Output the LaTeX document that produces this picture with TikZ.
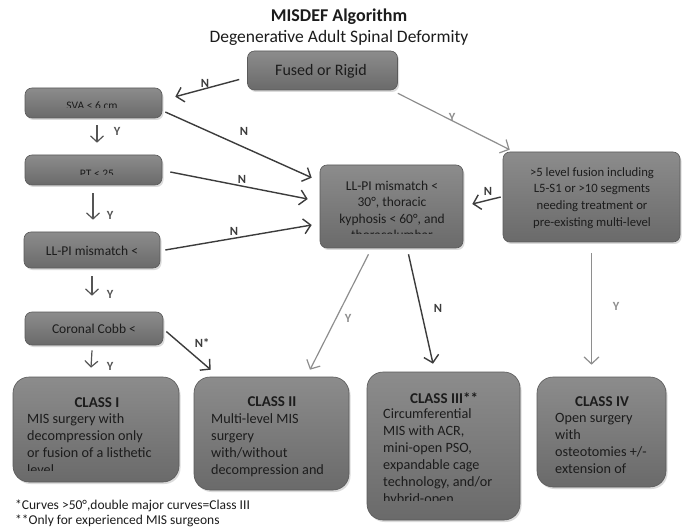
\documentclass[tikz,border=0pt]{standalone}
\usepackage{fontspec}
\setmainfont{Carlito}
\usetikzlibrary{arrows.meta,shadows}

\definecolor{boxtop}{HTML}{8C8C8C}
\definecolor{boxbot}{HTML}{6A6A6A}
\definecolor{boxline}{HTML}{5A5A5A}
\definecolor{ink}{HTML}{1C1C1C}
\definecolor{darkline}{HTML}{3C3C3C}
\definecolor{midline}{HTML}{555555}
\definecolor{paleline}{HTML}{8E8E8E}

\tikzset{
  box/.style={draw=boxline, line width=0.6pt, top color=boxtop, bottom color=boxbot,
    rounded corners=7pt, inner sep=0pt,
    drop shadow={opacity=0.28, shadow xshift=1.5pt, shadow yshift=-2pt}},
  classbox/.style={box, rounded corners=16pt},
  boxtext/.style={font=\fontsize{13.5}{16.5}\selectfont, text=ink, align=center, inner sep=0pt},
  smalltext/.style={boxtext, font=\fontsize{11.5}{13}\selectfont},
  bodytext/.style={font=\fontsize{14.2}{17}\selectfont, text=ink, align=left, inner sep=0pt, anchor=north west},
  classtitle/.style={font=\fontsize{15}{17}\selectfont\bfseries, text=ink, inner sep=0pt},
  noarrow/.style={draw=darkline, line width=1.4pt, -{Straight Barb[length=7pt,width=15pt]}},
  yesarrow/.style={draw=paleline, line width=1.2pt, -{Straight Barb[length=7pt,width=15pt]}},
  downarrow/.style={draw=midline, line width=1.2pt, -{Straight Barb[length=6pt,width=13pt]}},
  nlabel/.style={font=\fontsize{12.5}{14}\selectfont\bfseries, text=darkline, inner sep=0pt},
  ylabel/.style={font=\fontsize{12.5}{14}\selectfont\bfseries, text=paleline, inner sep=0pt},
  dylabel/.style={font=\fontsize{12.5}{14}\selectfont\bfseries, text=midline, inner sep=0pt},
  note/.style={font=\fontsize{13.5}{15}\selectfont, text=ink, inner sep=0pt, anchor=west},
}

\begin{document}
\begin{tikzpicture}[x=1pt, y=-1pt]
  \useasboundingbox[fill=white] (0,0) rectangle (682,529);

  % heading
  \node[font=\fontsize{18}{20}\selectfont\bfseries, text=ink, inner sep=0pt] (title) at (339,17) {MISDEF Algorithm};
  \node[font=\fontsize{17.5}{20}\selectfont, text=ink, inner sep=0pt] (subtitle) at (339,38) {Degenerative Adult Spinal Deformity};

  % decision boxes
  \node[box, minimum width=150pt, minimum height=39pt] (fused) at (322.5,70.5) {};
  \node[boxtext, font=\fontsize{16}{18}\selectfont] (fusedtxt) at (321,71) {Fused or Rigid};

  \node[box, minimum width=137pt, minimum height=30pt] (sva) at (93.5,103) {};
  \begin{scope}
    \clip (25,88) rectangle (162,107.8);
    \node[smalltext] (svatxt) at (92,105.5) {SVA < 6 cm};
  \end{scope}

  \node[box, minimum width=137pt, minimum height=30pt] (pt) at (93.5,170) {};
  \begin{scope}
    \clip (25,155) rectangle (162,175);
    \node[smalltext] (pttxt) at (97,173.5) {PT < 25};
  \end{scope}

  \node[box, minimum width=136pt, minimum height=36pt] (llpi) at (92,250) {};
  \node[boxtext] (llpitxt) at (92,251) {LL-PI mismatch <};

  \node[box, minimum width=138pt, minimum height=33pt] (cobb) at (94,328.5) {};
  \node[boxtext] (cobbtxt) at (94,329) {Coronal Cobb <};

  \node[box, minimum width=143pt, minimum height=83pt] (mid) at (391.5,206.5) {};
  \begin{scope}
    \clip (320,165) rectangle (463,234);
    \node[boxtext, anchor=north] (midtxt) at (392,180.5)
      {LL-PI mismatch <\\30°, thoracic\\kyphosis < 60°, and\\thoracolumbar};
  \end{scope}

  \node[box, minimum width=177pt, minimum height=90pt] (right) at (591.5,197) {};
  \node[boxtext, font=\fontsize{12.7}{16.7}\selectfont] (righttxt) at (592,198)
    {>5 level fusion including\\L5-S1 or >10 segments\\needing treatment or\\pre-existing multi-level};

  % outcome boxes
  \node[classbox, minimum width=166pt, minimum height=105pt] (c1) at (96,429.5) {};
  \node[classtitle] (c1t) at (97,403) {CLASS I};
  \begin{scope}
    \clip (13,377) rectangle (179,470);
    \node[bodytext] (c1b) at (27,413.5)
      {MIS surgery with\\decompression only\\or fusion of a listhetic\\level};
  \end{scope}

  \node[classbox, minimum width=155pt, minimum height=113pt] (c2) at (271.5,433.5) {};
  \node[classtitle] (c2t) at (272,402) {CLASS II};
  \node[bodytext] (c2b) at (211,413)
    {Multi-level MIS\\surgery\\with/without\\decompression and};

  \node[classbox, minimum width=153pt, minimum height=148pt] (c3) at (443.5,446) {};
  \node[classtitle] (c3t) at (444,398) {CLASS III**};
  \begin{scope}
    \clip (367,372) rectangle (520,500.5);
    \node[bodytext] (c3b) at (383,408.5)
      {Circumferential\\MIS with ACR,\\mini-open PSO,\\expandable cage\\technology, and/or\\hybrid-open};
  \end{scope}

  \node[classbox, minimum width=129pt, minimum height=110pt] (c4) at (601.5,432) {};
  \node[classtitle] (c4t) at (602,402) {CLASS IV};
  \node[bodytext] (c4b) at (555,413)
    {Open surgery\\with\\osteotomies +/-\\extension of};

  % connectors
  \draw[noarrow] ([shift={(-8,9)}]fused.west) -- ([shift={(13,9)}]sva.north east);
  \node[nlabel] (n1) at (205,83) {N};

  \draw[yesarrow] ([shift={(0,3)}]fused.south east) -- ([shift={(7,-2)}]right.north west);
  \node[ylabel] (y1) at (452,117) {Y};

  \draw[noarrow] ([shift={(3,9)}]sva.east) -- ([shift={(-8,13)}]mid.north west);
  \node[nlabel] (n2) at (244,131) {N};

  \draw[noarrow] ([shift={(8,2)}]pt.east) -- ([shift={(-12,-7.5)}]mid.west);
  \node[nlabel] (n3) at (242,179) {N};

  \draw[noarrow] ([shift={(5,0)}]llpi.east) -- ([shift={(-8,18.5)}]mid.west);
  \node[nlabel] (n4) at (234,231) {N};

  \draw[noarrow] ([shift={(-2,0)}]right.west) -- ([shift={(9,-2.5)}]mid.east);
  \node[nlabel] (n5) at (488,191) {N};

  \draw[noarrow] ([shift={(3,3)}]cobb.east) -- ([shift={(17,-7)}]c2.north west);
  \node[nlabel] (n6) at (202,343) {N*};

  \draw[yesarrow] ([shift={(-23,6)}]mid.south) -- ([shift={(38.5,-7)}]c2.north);
  \node[ylabel] (y2) at (348,318) {Y};

  \draw[noarrow] ([shift={(17,6)}]mid.south) -- ([shift={(-10.5,-8)}]c3.north);
  \node[nlabel] (n7) at (438,308) {N};

  \draw[yesarrow] ([shift={(0,11)}]right.south) -- ([shift={(-10,-12)}]c4.north);
  \node[ylabel] (y3) at (616,306) {Y};

  \draw[downarrow] ([shift={(3.5,7)}]sva.south) -- ([shift={(3.5,-12)}]pt.north);
  \node[dylabel] (y4) at (117,131) {Y};

  \draw[downarrow] ([shift={(-0.5,8)}]pt.south) -- ([shift={(1,-12)}]llpi.north);
  \node[dylabel] (y5) at (110,215) {Y};

  \draw[downarrow] ([shift={(0,8)}]llpi.south) -- ([shift={(-2,-16)}]cobb.north);
  \node[dylabel] (y6) at (110,294) {Y};

  \draw[downarrow] ([shift={(-2,5)}]cobb.south) -- ([shift={(-5,-9)}]c1.north);
  \node[dylabel] (y7) at (110,366) {Y};

  % footnotes
  \node[note] (fn1) at (15,506) {*Curves >50°,double major curves=Class III};
  \node[note] (fn2) at (15,521) {**Only for experienced MIS surgeons};
\end{tikzpicture}
\end{document}
